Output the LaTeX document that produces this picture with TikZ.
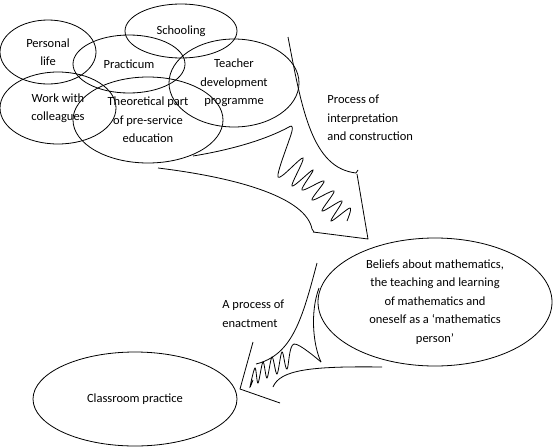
\documentclass[tikz,border=0pt]{standalone}
\usepackage{fontspec}
\setmainfont{Carlito}
\usetikzlibrary{shapes.geometric}

\tikzset{
  txt/.style={font=\fontsize{12.5}{18.5}\selectfont, align=center, inner sep=0pt},
  ell/.style={txt, draw, ellipse},
}

\begin{document}
\begin{tikzpicture}[x=1pt, y=-1pt, line width=0.8pt]
            \useasboundingbox (0,0) rectangle (553,447);
            % Sources
            \node[ell, minimum width=96, minimum height=64] (life) at (48,52) {Personal\\life};
            \node[ell, minimum width=112, minimum height=54] (school) at (181,31) {Schooling};
            \node[ell, minimum width=112, minimum height=58] (prac) at (129,64) {Practicum};
            \node[ell, minimum width=130, minimum height=88] (tdp) at (234,83) {Teacher\\development\\programme};
            \node[ell, minimum width=116, minimum height=72] (work) at (58,108) {Work with\\colleagues};
            \node[ell, minimum width=150, minimum height=86] (theory) at (148,120) {Theoretical part\\of pre-service\\education};
            % Beliefs and practice
            \node[ell, minimum width=234, minimum height=128] (beliefs) at (435,302) {Beliefs about mathematics,\\the teaching and learning\\of mathematics and\\oneself as a `mathematics\\person'};
            \node[ell, minimum width=204, minimum height=94] (class) at (135,399) {Classroom practice};
            % Process labels
            \node[txt, align=left, anchor=west] (interp) at (327,118) {Process of\\interpretation\\and construction};
            \node[txt, align=left, anchor=west] (enact) at (222,314) {A process of\\enactment};
            % Arrow one
            \draw (288,37) .. controls (302,110) and (312,168) .. (356,173) -- (358,170);
            \draw (357,174) -- (368,239) -- (313,232);
            \draw (158,168) .. controls (240,178) and (306,198) .. (312,229) -- (314,232);
            \draw (193,156) .. controls (230,150) and (265,140) .. (289,127);
            \draw plot[smooth, tension=0.55] coordinates {(289,127) (292,131) (278,177) (303,158) (292,186) (313,170) (302,190) (324,181) (312,200) (334,191) (322,211) (342,201) (331,221) (350,208) (347,221)};
            % Arrow two
            \draw (317,263) .. controls (302,320) and (292,355) .. (256,364);
            \draw (253,342) -- (240,389) -- (280,403);
            \draw (273,387) .. controls (280,370) and (310,366) .. (382,367);
            \draw (319,288) .. controls (310,312) and (313,345) .. (321,362);
            \draw plot[smooth, tension=0.55] coordinates {(321,362) (294,344) (287,369) (282,352) (277,374) (272,357) (267,378) (263,362) (258,383) (255,368) (250,387) (253,380)};
        \end{tikzpicture}
\end{document}
